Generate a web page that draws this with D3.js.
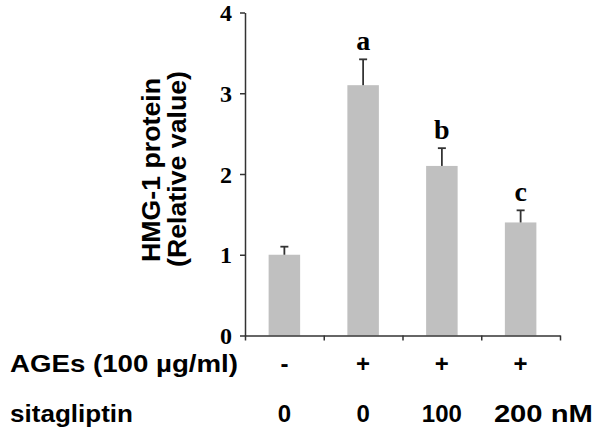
<!DOCTYPE html>
<html>
<head>
<meta charset="utf-8">
<script src="https://cdn.jsdelivr.net/npm/d3@7"></script>
<style>
  html, body { margin: 0; padding: 0; background: #fff; }
  svg { display: block; }
</style>
</head>
<body>
<svg id="chart" width="600" height="434"></svg>
<script>
// ---- data ----
const categories = ["ctrl", "AGEs", "AGEs+100", "AGEs+200"];
const values = [1.0, 3.1, 2.1, 1.4];
const errors = [0.1, 0.32, 0.22, 0.15];
const sigLabels = ["", "a", "b", "c"];
const yTicks = [0, 1, 2, 3, 4];
const agesRow = ["-", "+", "+", "+"];
const sitaRow = ["0", "0", "100", "200 nM"];
const yTitle = ["HMG-1 protein", "(Relative value)"];
const rowTitles = ["AGEs (100 \u00b5g/ml)", "sitagliptin"];

// ---- layout ----
const svg = d3.select("#chart");
const x0 = 245, x1 = 560, yTop = 12.5, yBot = 335.5;
const serif = "'Liberation Serif', 'Times New Roman', serif";
const sans = "'Liberation Sans', Arial, sans-serif";

const x = d3.scaleBand().domain(categories).range([x0, x1]).paddingInner(0.6).paddingOuter(0.3);
const y = d3.scaleLinear().domain([0, 4]).range([yBot, yTop]);
const xEdges = d3.scaleLinear().domain([0, categories.length]).range([x0, x1]);

// bars
svg.append("g").selectAll("rect").data(values).join("rect")
  .attr("x", (d, i) => x(categories[i]))
  .attr("y", d => y(d))
  .attr("width", x.bandwidth())
  .attr("height", d => y(0) - y(d))
  .attr("fill", "#c0c0c0");

// error bars
const eg = svg.append("g").attr("stroke", "#333").attr("stroke-width", 1.8);
values.forEach((v, i) => {
  const cx = x(categories[i]) + x.bandwidth() / 2;
  eg.append("line").attr("x1", cx).attr("x2", cx).attr("y1", y(v)).attr("y2", y(v + errors[i]));
  eg.append("line").attr("x1", cx - 4).attr("x2", cx + 4).attr("y1", y(v + errors[i])).attr("y2", y(v + errors[i]));
});

// significance letters
svg.append("g").selectAll("text").data(sigLabels).join("text")
  .attr("x", (d, i) => x(categories[i]) + x.bandwidth() / 2)
  .attr("y", (d, i) => y(values[i] + errors[i]) - 9)
  .attr("text-anchor", "middle")
  .attr("font-family", serif).attr("font-weight", "bold").attr("font-size", 28)
  .attr("fill", "#000")
  .text(d => d);

// y axis
const yAxis = svg.append("g").attr("transform", `translate(${x0},0)`)
  .call(d3.axisLeft(y).tickValues(yTicks).tickFormat(d3.format("d")).tickSize(5).tickSizeOuter(0).tickPadding(8));
yAxis.select(".domain").attr("stroke", "#333").attr("stroke-width", 1.5);
yAxis.selectAll(".tick line").attr("stroke", "#333").attr("stroke-width", 1.5);
yAxis.selectAll(".tick text")
  .attr("font-family", serif).attr("font-weight", "bold").attr("font-size", 24).attr("fill", "#000")
  .attr("dy", "0.34em");

// x axis (ticks at category boundaries)
const xAxis = svg.append("g").attr("transform", `translate(0,${yBot})`)
  .call(d3.axisBottom(xEdges).tickValues(d3.range(categories.length + 1)).tickFormat("").tickSize(5).tickSizeOuter(0));
xAxis.select(".domain").attr("stroke", "#333").attr("stroke-width", 1.5);
xAxis.selectAll(".tick line").attr("stroke", "#333").attr("stroke-width", 1.5);

// y title
const yt = svg.append("g").attr("font-family", sans).attr("font-weight", "bold").attr("font-size", 26).attr("fill", "#000");
yt.append("text").attr("transform", "translate(160,170) rotate(-90)").attr("text-anchor", "middle")
  .attr("textLength", 184).attr("lengthAdjust", "spacingAndGlyphs").text(yTitle[0]);
yt.append("text").attr("transform", "translate(186,169) rotate(-90)").attr("text-anchor", "middle")
  .attr("textLength", 196).attr("lengthAdjust", "spacingAndGlyphs").text(yTitle[1]);

// condition rows
const rows = svg.append("g").attr("font-family", sans).attr("font-weight", "bold").attr("font-size", 24).attr("fill", "#000");
rows.append("text").attr("x", 10).attr("y", 372).attr("textLength", 228).attr("lengthAdjust", "spacingAndGlyphs").text(rowTitles[0]);
rows.append("text").attr("x", 10).attr("y", 422).attr("textLength", 123).attr("lengthAdjust", "spacingAndGlyphs").text(rowTitles[1]);
rows.selectAll("text.ages").data(agesRow).join("text").attr("class", "ages")
  .attr("x", (d, i) => x(categories[i]) + x.bandwidth() / 2)
  .attr("y", 372).attr("text-anchor", "middle").text(d => d);
rows.selectAll("text.sita").data(sitaRow).join("text").attr("class", "sita")
  .attr("x", (d, i) => i === sitaRow.length - 1 ? x(categories[i]) - 11 : x(categories[i]) + x.bandwidth() / 2)
  .attr("y", 422)
  .attr("text-anchor", (d, i) => i === sitaRow.length - 1 ? "start" : "middle")
  .each(function(d, i) { if (i === sitaRow.length - 1) d3.select(this).attr("textLength", 99).attr("lengthAdjust", "spacingAndGlyphs"); })
  .text(d => d);
</script>
</body>
</html>
